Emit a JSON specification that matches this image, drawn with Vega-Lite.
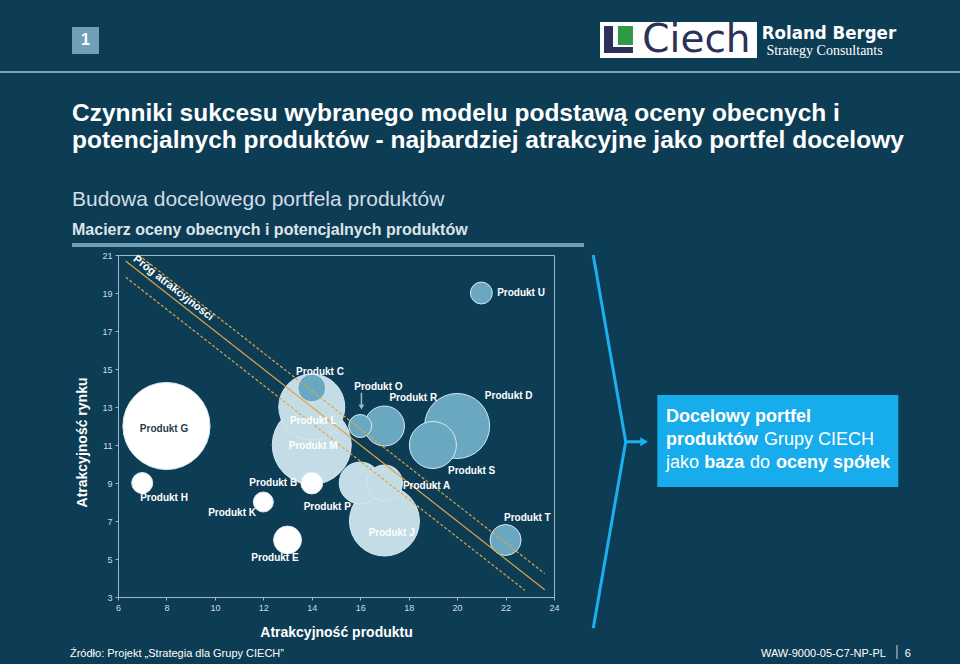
{
  "$schema": "https://vega.github.io/schema/vega-lite/v6.json",
  "width": 436,
  "height": 342,
  "autosize": {"type": "none"},
  "padding": {"left": 118, "top": 255, "right": 406, "bottom": 67},
  "background": "#0d3c55",
  "config": {
    "font": "Liberation Sans, Arial, sans-serif",
    "view": {"stroke": "#9db8c7", "strokeWidth": 1},
    "axis": {
      "grid": false,
      "domainColor": "#9db8c7",
      "tickColor": "#9db8c7",
      "tickSize": 3,
      "labelColor": "#d0dce4",
      "labelFontSize": 9,
      "labelPadding": 3,
      "labelFlush": false,
      "labelOverlap": false,
      "labelSeparation": 0,
      "labelBound": false,
      "titleColor": "#ffffff",
      "titleFontSize": 14,
      "titleFontWeight": "bold"
    }
  },
  "datasets": {
    "produkty": [
      {"nazwa": "Produkt G", "atrakcyjnosc_produktu": 8, "atrakcyjnosc_rynku": 12, "wielkosc": 76, "grupa": "poza portfelem", "etykieta_x": 7.9, "etykieta_y": 11.86},
      {"nazwa": "Produkt H", "atrakcyjnosc_produktu": 7, "atrakcyjnosc_rynku": 9, "wielkosc": 4.4, "grupa": "poza portfelem", "etykieta_x": 7.9, "etykieta_y": 8.19},
      {"nazwa": "Produkt K", "atrakcyjnosc_produktu": 12, "atrakcyjnosc_rynku": 8, "wielkosc": 4.0, "grupa": "poza portfelem", "etykieta_x": 10.71, "etykieta_y": 7.44},
      {"nazwa": "Produkt E", "atrakcyjnosc_produktu": 13, "atrakcyjnosc_rynku": 6, "wielkosc": 7.8, "grupa": "poza portfelem", "etykieta_x": 12.48, "etykieta_y": 5.04},
      {"nazwa": "Produkt M", "atrakcyjnosc_produktu": 14, "atrakcyjnosc_rynku": 11, "wielkosc": 62.4, "grupa": "do weryfikacji", "etykieta_x": 14.06, "etykieta_y": 10.96},
      {"nazwa": "Produkt L", "atrakcyjnosc_produktu": 14, "atrakcyjnosc_rynku": 13, "wielkosc": 43.6, "grupa": "do weryfikacji", "etykieta_x": 14.06, "etykieta_y": 12.26},
      {"nazwa": "Produkt C", "atrakcyjnosc_produktu": 14, "atrakcyjnosc_rynku": 14, "wielkosc": 7.8, "grupa": "portfel docelowy", "etykieta_x": 14.34, "etykieta_y": 14.86},
      {"nazwa": "Produkt B", "atrakcyjnosc_produktu": 14, "atrakcyjnosc_rynku": 9, "wielkosc": 4.8, "grupa": "poza portfelem", "etykieta_x": 12.41, "etykieta_y": 9.02},
      {"nazwa": "Produkt J", "atrakcyjnosc_produktu": 17, "atrakcyjnosc_rynku": 7, "wielkosc": 49, "grupa": "do weryfikacji", "etykieta_x": 17.3, "etykieta_y": 6.38},
      {"nazwa": "Produkt P", "atrakcyjnosc_produktu": 16, "atrakcyjnosc_rynku": 9, "wielkosc": 17.6, "grupa": "do weryfikacji", "etykieta_x": 14.64, "etykieta_y": 7.74},
      {"nazwa": "Produkt A", "atrakcyjnosc_produktu": 17, "atrakcyjnosc_rynku": 9, "wielkosc": 13, "grupa": "do weryfikacji", "etykieta_x": 18.74, "etykieta_y": 8.86},
      {"nazwa": "Produkt R", "atrakcyjnosc_produktu": 17, "atrakcyjnosc_rynku": 12, "wielkosc": 16, "grupa": "portfel docelowy", "etykieta_x": 18.19, "etykieta_y": 13.46},
      {"nazwa": "Produkt O", "atrakcyjnosc_produktu": 16, "atrakcyjnosc_rynku": 12, "wielkosc": 5.3, "grupa": "portfel docelowy", "etykieta_x": 16.75, "etykieta_y": 14.04},
      {"nazwa": "Produkt D", "atrakcyjnosc_produktu": 20, "atrakcyjnosc_rynku": 12, "wielkosc": 42.3, "grupa": "portfel docelowy", "etykieta_x": 22.13, "etykieta_y": 13.56},
      {"nazwa": "Produkt S", "atrakcyjnosc_produktu": 19, "atrakcyjnosc_rynku": 11, "wielkosc": 22.1, "grupa": "portfel docelowy", "etykieta_x": 20.6, "etykieta_y": 9.65},
      {"nazwa": "Produkt T", "atrakcyjnosc_produktu": 22, "atrakcyjnosc_rynku": 6, "wielkosc": 9.6, "grupa": "portfel docelowy", "etykieta_x": 22.9, "etykieta_y": 7.16},
      {"nazwa": "Produkt U", "atrakcyjnosc_produktu": 21, "atrakcyjnosc_rynku": 19, "wielkosc": 4.8, "grupa": "portfel docelowy", "etykieta_x": 22.64, "etykieta_y": 19.0}
    ],
    "prog": [
      {"linia": "próg", "atrakcyjnosc_produktu": 6.32, "atrakcyjnosc_rynku": 20.68},
      {"linia": "próg", "atrakcyjnosc_produktu": 23.62, "atrakcyjnosc_rynku": 3.38},
      {"linia": "górna granica", "atrakcyjnosc_produktu": 6.85, "atrakcyjnosc_rynku": 21.0},
      {"linia": "górna granica", "atrakcyjnosc_produktu": 23.62, "atrakcyjnosc_rynku": 4.23},
      {"linia": "dolna granica", "atrakcyjnosc_produktu": 6.32, "atrakcyjnosc_rynku": 19.83},
      {"linia": "dolna granica", "atrakcyjnosc_produktu": 22.8, "atrakcyjnosc_rynku": 3.35}
    ]
  },
  "layer": [
    {
      "data": {"name": "produkty"},
      "mark": {"type": "point", "shape": "circle", "filled": true, "opacity": 1, "stroke": "#d6e8f0", "strokeWidth": 1},
      "encoding": {
        "x": {
          "field": "atrakcyjnosc_produktu", "type": "quantitative",
          "scale": {"domain": [6, 24], "nice": false, "zero": false},
          "axis": {"title": "Atrakcyjność produktu", "values": [6, 8, 10, 12, 14, 16, 18, 20, 22, 24], "labelOverlap": false, "titleY": 35, "titleBaseline": "middle"}
        },
        "y": {
          "field": "atrakcyjnosc_rynku", "type": "quantitative",
          "scale": {"domain": [3, 21], "nice": false, "zero": false},
          "axis": {"title": "Atrakcyjność rynku", "values": [3, 5, 7, 9, 11, 13, 15, 17, 19, 21], "tickCount": 10, "labelOverlap": false, "titleX": -36, "titleY": 187, "titleAngle": -90, "titleBaseline": "middle", "titleAlign": "center"}
        },
        "size": {"field": "wielkosc", "type": "quantitative", "scale": {"type": "linear", "domain": [0, 100], "range": [0, 10000]}, "legend": null},
        "color": {"field": "grupa", "type": "nominal", "scale": {"domain": ["poza portfelem", "do weryfikacji", "portfel docelowy"], "range": ["#ffffff", "#c3dce6", "#6aa8c1"]}, "legend": null}
      }
    },
    {
      "data": {"name": "prog"},
      "mark": {"type": "line", "strokeWidth": 1.2, "color": "#e0a544"},
      "encoding": {
        "x": {"field": "atrakcyjnosc_produktu", "type": "quantitative"},
        "y": {"field": "atrakcyjnosc_rynku", "type": "quantitative"},
        "detail": {"field": "linia"},
        "strokeDash": {"field": "linia", "type": "nominal", "scale": {"domain": ["próg", "górna granica", "dolna granica"], "range": [[1, 0], [3, 2], [3, 2]]}, "legend": null}
      }
    },
    {
      "data": {"name": "produkty"},
      "mark": {"type": "text", "fontWeight": "bold", "fontSize": 10},
      "encoding": {
        "x": {"field": "etykieta_x", "type": "quantitative"},
        "y": {"field": "etykieta_y", "type": "quantitative"},
        "text": {"field": "nazwa"},
        "color": {"condition": {"test": "datum.nazwa === 'Produkt G'", "value": "#1f3c52"}, "value": "#ffffff"}
      }
    },
    {
      "data": {"values": [{}]},
      "layer": [
        {"mark": {"type": "rule", "color": "#8cc0d4", "strokeWidth": 1.5}, "encoding": {"x": {"datum": 16.05}, "y": {"datum": 13.75}, "y2": {"datum": 13.1}}},
        {"mark": {"type": "point", "shape": "triangle-down", "filled": true, "color": "#8cc0d4", "size": 35, "opacity": 1}, "encoding": {"x": {"datum": 16.05}, "y": {"datum": 13.0}}},
        {"mark": {"type": "text", "text": "Próg atrakcyjności", "angle": 38, "fontWeight": "bold", "fontSize": 11, "color": "#ffffff"}, "encoding": {"x": {"datum": 8.28}, "y": {"datum": 19.25}}},

        {"mark": {"type": "rect", "color": "#6fa0b8"}, "encoding": {"x": {"datum": 4.101}, "x2": {"datum": 5.216}, "y": {"datum": 33.0}, "y2": {"datum": 31.58}}},
        {"mark": {"type": "text", "text": "1", "fontWeight": "bold", "fontSize": 16, "color": "#ffffff"}, "encoding": {"x": {"datum": 4.658}, "y": {"datum": 32.29}}},
        {"mark": {"type": "rule", "color": "#a9c6d4", "strokeWidth": 1.5}, "encoding": {"x": {"datum": 1.128}, "x2": {"datum": 40.76}, "y": {"datum": 30.63}}},
        {"mark": {"type": "rect", "color": "#ffffff"}, "encoding": {"x": {"datum": 25.9}, "x2": {"datum": 32.38}, "y": {"datum": 33.26}, "y2": {"datum": 31.37}}},
        {"mark": {"type": "rect", "color": "#2b3158"}, "encoding": {"x": {"datum": 26.064}, "x2": {"datum": 26.436}, "y": {"datum": 33.05}, "y2": {"datum": 31.63}}},
        {"mark": {"type": "rect", "color": "#2b3158"}, "encoding": {"x": {"datum": 26.064}, "x2": {"datum": 27.26}, "y": {"datum": 31.95}, "y2": {"datum": 31.63}}},
        {"mark": {"type": "rect", "color": "#2e9a48"}, "encoding": {"x": {"datum": 26.64}, "x2": {"datum": 27.26}, "y": {"datum": 33.05}, "y2": {"datum": 32.05}}},
        {"mark": {"type": "text", "text": "Ciech", "font": "DejaVu Sans", "fontSize": 39, "color": "#2b3158"}, "encoding": {"x": {"datum": 29.88}, "y": {"datum": 32.3}}},
        {"mark": {"type": "text", "text": "Roland Berger", "font": "DejaVu Sans Condensed, Liberation Sans Narrow, sans-serif", "fontWeight": "bold", "fontSize": 18.5, "color": "#ffffff"}, "encoding": {"x": {"datum": 35.35}, "y": {"datum": 32.68}}},
        {"mark": {"type": "text", "text": "Strategy Consultants", "font": "Liberation Serif, DejaVu Serif, serif", "fontSize": 14, "color": "#ffffff"}, "encoding": {"x": {"datum": 35.17}, "y": {"datum": 31.74}}},

        {"mark": {"type": "text", "text": "Czynniki sukcesu wybranego modelu podstawą oceny obecnych i", "align": "left", "fontWeight": "bold", "fontSize": 24.5, "color": "#ffffff"}, "encoding": {"x": {"datum": 4.101}, "y": {"datum": 28.42}}},
        {"mark": {"type": "text", "text": "potencjalnych produktów -  najbardziej atrakcyjne jako portfel docelowy", "align": "left", "fontWeight": "bold", "fontSize": 24.5, "color": "#ffffff"}, "encoding": {"x": {"datum": 4.101}, "y": {"datum": 27.0}}},
        {"mark": {"type": "text", "text": "Budowa docelowego portfela produktów", "align": "left", "fontSize": 21, "color": "#d3dde4"}, "encoding": {"x": {"datum": 4.101}, "y": {"datum": 23.89}}},
        {"mark": {"type": "text", "text": "Macierz oceny obecnych i potencjalnych produktów", "align": "left", "fontWeight": "bold", "fontSize": 16, "color": "#dde4ea"}, "encoding": {"x": {"datum": 4.101}, "y": {"datum": 22.32}}},
        {"mark": {"type": "rect", "color": "#6f9fb7"}, "encoding": {"x": {"datum": 4.101}, "x2": {"datum": 25.24}, "y": {"datum": 21.63}, "y2": {"datum": 21.42}}},

        {"mark": {"type": "rule", "color": "#1bb0ee", "strokeWidth": 3}, "encoding": {"x": {"datum": 25.62}, "y": {"datum": 21.0}, "x2": {"datum": 26.96}, "y2": {"datum": 11.17}}},
        {"mark": {"type": "rule", "color": "#1bb0ee", "strokeWidth": 3}, "encoding": {"x": {"datum": 26.96}, "y": {"datum": 11.17}, "x2": {"datum": 25.62}, "y2": {"datum": 1.35}}},
        {"mark": {"type": "rule", "color": "#1bb0ee", "strokeWidth": 3}, "encoding": {"x": {"datum": 26.96}, "y": {"datum": 11.17}, "x2": {"datum": 27.6}}},
        {"mark": {"type": "point", "shape": "triangle-right", "filled": true, "color": "#1bb0ee", "size": 80, "opacity": 1}, "encoding": {"x": {"datum": 27.72}, "y": {"datum": 11.17}}},
        {"mark": {"type": "rect", "color": "#17acec"}, "encoding": {"x": {"datum": 28.265}, "x2": {"datum": 38.215}, "y": {"datum": 13.63}, "y2": {"datum": 8.79}}},
        {"mark": {"type": "text", "text": "Docelowy portfel", "align": "left", "fontWeight": "bold", "fontSize": 18, "color": "#ffffff"}, "encoding": {"x": {"datum": 28.624}, "y": {"datum": 12.474}}},
        {"mark": {"type": "text", "text": "produktów", "align": "left", "fontWeight": "bold", "fontSize": 18, "color": "#ffffff"}, "encoding": {"x": {"datum": 28.624}, "y": {"datum": 11.263}}},
        {"mark": {"type": "text", "text": "Grupy CIECH", "align": "left", "fontSize": 18, "color": "#ffffff"}, "encoding": {"x": {"datum": 32.67}, "y": {"datum": 11.263}}},
        {"mark": {"type": "text", "text": "jako", "align": "left", "fontSize": 18, "color": "#ffffff"}, "encoding": {"x": {"datum": 28.624}, "y": {"datum": 10.053}}},
        {"mark": {"type": "text", "text": "baza", "align": "left", "fontWeight": "bold", "fontSize": 18, "color": "#ffffff"}, "encoding": {"x": {"datum": 30.205}, "y": {"datum": 10.053}}},
        {"mark": {"type": "text", "text": "do", "align": "left", "fontSize": 18, "color": "#ffffff"}, "encoding": {"x": {"datum": 32.092}, "y": {"datum": 10.053}}},
        {"mark": {"type": "text", "text": "oceny spółek", "align": "left", "fontWeight": "bold", "fontSize": 18, "color": "#ffffff"}, "encoding": {"x": {"datum": 33.165}, "y": {"datum": 10.053}}},

        {"mark": {"type": "text", "text": "Źródło: Projekt „Strategia dla Grupy CIECH”", "align": "left", "fontSize": 11, "color": "#ffffff"}, "encoding": {"x": {"datum": 4.018}, "y": {"datum": 0.0}}},
        {"mark": {"type": "text", "text": "WAW-9000-05-C7-NP-PL", "align": "right", "fontSize": 11, "color": "#ffffff"}, "encoding": {"x": {"datum": 37.7}, "y": {"datum": 0.0}}},
        {"mark": {"type": "rule", "color": "#c9d6de", "strokeWidth": 1}, "encoding": {"x": {"datum": 38.16}, "y": {"datum": 0.47}, "y2": {"datum": -0.26}}},
        {"mark": {"type": "text", "text": "6", "fontSize": 11, "color": "#ffffff"}, "encoding": {"x": {"datum": 38.61}, "y": {"datum": 0.0}}}
      ]
    }
  ]
}
